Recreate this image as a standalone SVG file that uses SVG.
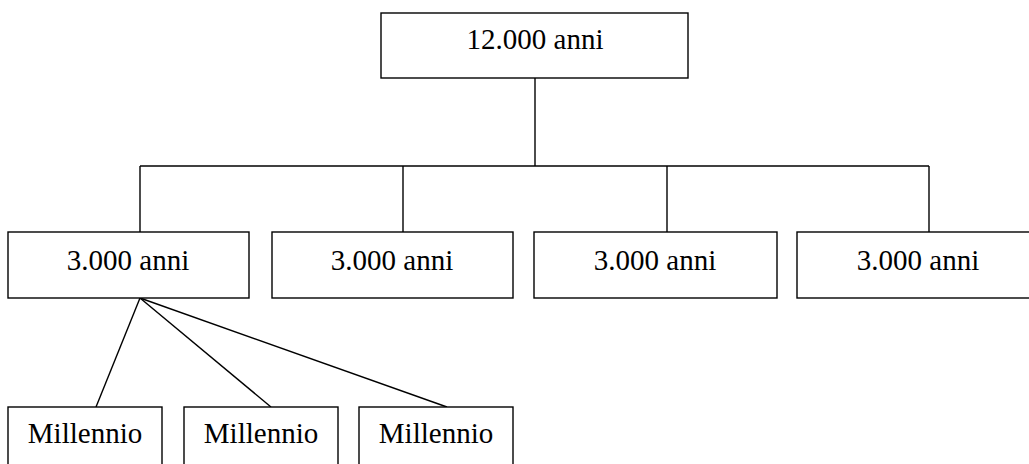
<svg xmlns="http://www.w3.org/2000/svg" width="1029" height="464" viewBox="0 0 1029 464">
<style>
.box{fill:#fff;stroke:#000;stroke-width:1.4}
.lbl{font-family:"Liberation Serif","Times New Roman",serif;font-size:29px;fill:#000;text-anchor:middle}
.conn{fill:none;stroke:#000;stroke-width:1.4}
</style>
<rect width="1029" height="464" fill="#fff"/>
<g id="connectors" class="conn">
<line x1="535" y1="78" x2="535" y2="166"/>
<line x1="140" y1="166" x2="929" y2="166"/>
<line x1="140" y1="166" x2="140" y2="232"/>
<line x1="403" y1="166" x2="403" y2="232"/>
<line x1="667" y1="166" x2="667" y2="232"/>
<line x1="929" y1="166" x2="929" y2="232"/>
<line x1="140" y1="298" x2="96" y2="407"/>
<line x1="140" y1="298" x2="271" y2="407"/>
<line x1="140" y1="298" x2="447" y2="407"/>
</g>
<g id="root">
<rect class="box" x="381" y="13" width="307" height="65"/>
<text class="lbl" x="535" y="49">12.000 anni</text>
</g>
<g id="n1">
<rect class="box" x="8" y="232" width="241" height="66"/>
<text class="lbl" x="128" y="270">3.000 anni</text>
</g>
<g id="n2">
<rect class="box" x="272" y="232" width="241" height="66"/>
<text class="lbl" x="392" y="270">3.000 anni</text>
</g>
<g id="n3">
<rect class="box" x="534" y="232" width="243" height="66"/>
<text class="lbl" x="655" y="270">3.000 anni</text>
</g>
<g id="n4">
<rect class="box" x="797" y="232" width="242" height="66"/>
<text class="lbl" x="918" y="270">3.000 anni</text>
</g>
<g id="m1">
<rect class="box" x="8" y="407" width="154" height="66"/>
<text class="lbl" x="85" y="443">Millennio</text>
</g>
<g id="m2">
<rect class="box" x="184" y="407" width="154" height="66"/>
<text class="lbl" x="261" y="443">Millennio</text>
</g>
<g id="m3">
<rect class="box" x="359" y="407" width="154" height="66"/>
<text class="lbl" x="436" y="443">Millennio</text>
</g>
</svg>
